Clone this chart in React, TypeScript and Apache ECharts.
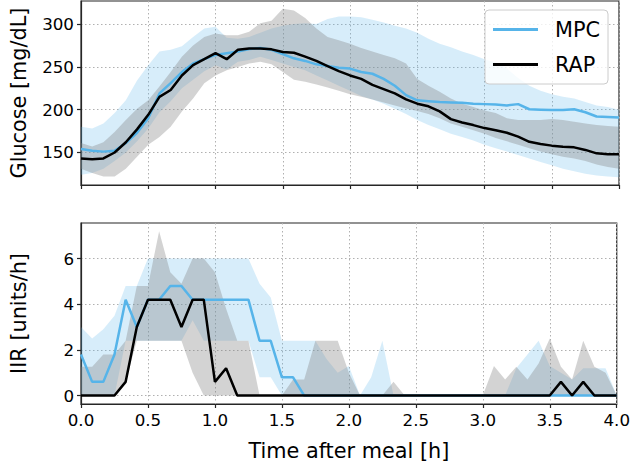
import React, { useEffect, useRef } from "react";
import * as echarts from "echarts";

// time grid (minutes after meal, 5-minute steps)
const minutes = [0,5,10,15,20,25,30,35,40,45,50,55,60,65,70,75,80,85,90,95,100,105,110,115,120,125,130,135,140,145,150,155,160,165,170,175,180,185,190,195,200,205,210,215,220,225,230,235,240];

// Glucose [mg/dL]
const mpcGlucose = [154,152,151,152,161,173,190,219,231,244,254,259,264,266,268,271,272,270,265,260,257,253,251,249,248,244,242,236,228,217,211,210,209,208.5,208,207,206.5,206,205,206.5,200.5,200,199.5,199.5,200.5,197,192,191.5,191];
const mpcGlucoseHi = [180,178,184,196,211,234,252,268,270,274,285,295,297,284,283,285,290,295,298,300,301,300,306,309,309,308,305,302,298,295,290,283,277,273,268,264,259,255,248,237,228,222,218,215,213,209,205,203,200];
const mpcGlucoseLo = [124,126,131,140,150,163,178,197,210,225,235,245,252,247,256,258,262,258,254,250,246,240,234,228,222,216,212,207,201,195,188,182,177,172,168,164,159,155,151,147,143,139,135,131,128,125,123,122,121];
const rapGlucose = [143,142,143,150,162,177,194,215,223,240,252,259,266,259,270,271.5,271.5,270.5,267.5,266.5,262,257,251,245,240,236,229,224,219,212,207,204,198,189,185,182,178.5,176,173,168.5,162.5,160,158,156.7,156,153,149,148,148];
const rapGlucoseHi = [161,157,162,174,188,201,211,227,244,262,275,285,289,287,287,291,301,304,318,316,307,295,285,281,277,272,268,264,260,254,236,228,221,213,207,203,199,196,190,188,188,188,189,188,186,184,182,181,180];
const rapGlucoseLo = [131,126,122,122,131,145,159,168,180,198,213,231,240,246,250,254,256,253,244,235,232.6,229.5,226,222,218,215,212,208.5,205,201.5,198.4,195,190,184,180,176,172,167,163,159,155,151,148,145,143,140,136,133,131];

// Insulin infusion rate [units/h]
const mpcIIR = [1.8,0.6,0.6,1.8,4.2,3.0,4.2,4.2,4.8,4.8,4.2,4.2,4.2,4.2,4.2,4.2,2.4,2.4,0.8,0.8,0,0,0,0,0,0,0,0,0,0,0,0,0,0,0,0,0,0,0,0,0,0,0,0,0,0,0,0,0];
const mpcIIRHi = [3.0,2.5,2.9,3.5,4.8,4.8,6.0,6.0,6.0,6.0,6.0,6.0,6.0,6.0,6.0,6.0,4.9,4.3,2.4,2.4,2.4,2.4,1.6,1.0,1.3,0,0.8,2.4,0,0,0,0,0,0,0,0,0,0,0,1.2,1.8,2.4,1.3,1.0,0.7,1.2,1.2,1.2,0];
const mpcIIRLo = [0,0,0,0,2.4,2.4,2.4,2.4,2.4,2.4,3.3,2.4,2.4,2.4,2.4,2.4,0.8,0.8,0,0,0,0,0,0,0,0,0,0,0,0,0,0,0,0,0,0,0,0,0,0,0,0,0,0,0,0,0,0,0];
const rapIIR = [0,0,0,0,0.6,3.0,4.2,4.2,4.2,3.0,4.2,4.2,0.6,1.2,0,0,0,0,0,0,0,0,0,0,0,0,0,0,0,0,0,0,0,0,0,0,0,0,0,0,0,0,0,0.6,0,0.6,0,0,0];
const rapIIRHi = [1.26,1.26,1.8,1.8,2.4,4.8,4.8,7.2,5.4,4.9,6.0,6.0,5.4,3.8,2.4,2.4,0,0,0,0.7,0.7,2.4,2.4,2.4,1.0,0,0,0,0.6,0,0,0,0,0,0,0,0,1.3,0.7,1.26,0.7,1.4,2.5,1.26,0.7,2.4,1.26,1.0,0];
const rapIIRLo = [0,0,0,0,0.6,2.4,2.4,2.4,2.4,2.4,1.0,0,0,0,0,0,0,0,0,0,0,0,0,0,0,0,0,0,0,0,0,0,0,0,0,0,0,0,0,0,0,0,0,0,0,0,0,0,0];

// tick labels
const timeTicks = [0, 0.5, 1, 1.5, 2, 2.5, 3, 3.5, 4];
const glucoseTicks = [150, 200, 250, 300];
const iirTicks = [0, 2, 4, 6];

const MPC_COLOR = "#56B4E9";
const FONT = "DejaVu Sans";
const AXIS_COLOR = "#262626";

const hours = minutes.map((m) => m / 60);
const pairs = (arr: number[]) => arr.map((v, i) => [hours[i], v]);

// shaded range drawn as one polygon through the axes' own scales
function band(name: string, grid: number, hi: number[], lo: number[], color: string, opacity: number) {
  const data = hours.map((h, i) => [h, lo[i], hi[i]]);
  return {
    name,
    type: "custom",
    xAxisIndex: grid,
    yAxisIndex: grid,
    silent: true,
    data,
    encode: { x: 0, y: [1, 2] },
    renderItem: (params: any, api: any) => {
      if (params.dataIndex !== 0) return null;
      const upper = data.map((d) => api.coord([d[0], d[2]]));
      const lower = data.map((d) => api.coord([d[0], d[1]])).reverse();
      return {
        type: "polygon",
        shape: { points: upper.concat(lower) },
        style: { fill: color, opacity, stroke: "none" },
      };
    },
  };
}

function line(name: string, grid: number, arr: number[], color: string) {
  return {
    name,
    type: "line",
    xAxisIndex: grid,
    yAxisIndex: grid,
    data: pairs(arr),
    symbol: "none",
    lineStyle: { color, width: 2.5 },
    itemStyle: { color },
  };
}

const splitLine = { show: true, lineStyle: { type: [1.5, 2.5], color: "#b0b0b0", width: 1 } };
const axisLine = { show: true, onZero: false, lineStyle: { color: AXIS_COLOR, width: 1.2 } };

function xAxis(grid: number, showLabels: boolean) {
  return {
    type: "value",
    gridIndex: grid,
    min: 0,
    max: 4,
    interval: 0.5,
    axisLine,
    axisTick: { show: true, length: 4, lineStyle: { color: AXIS_COLOR, width: 1.2 } },
    axisLabel: {
      show: showLabels,
      customValues: timeTicks,
      formatter: (v: number) => v.toFixed(1),
      fontFamily: FONT,
      fontSize: 16.7,
      color: "#000",
      margin: 7,
    },
    splitLine,
    name: showLabels ? "Time after meal [h]" : "",
    nameLocation: "middle",
    nameGap: 36,
    nameTextStyle: { fontFamily: FONT, fontSize: 20.8, color: "#000" },
  };
}

function yAxis(grid: number, min: number, max: number, ticks: number[], name: string) {
  return {
    type: "value",
    gridIndex: grid,
    min,
    max,
    axisLine,
    axisTick: { show: true, length: 4, customValues: ticks, lineStyle: { color: AXIS_COLOR, width: 1.2 } },
    axisLabel: {
      customValues: ticks,
      fontFamily: FONT,
      fontSize: 16.7,
      color: "#000",
      margin: 7,
    },
    splitLine,
    name,
    nameLocation: "middle",
    nameGap: 52,
    nameTextStyle: { fontFamily: FONT, fontSize: 20.8, color: "#000" },
  };
}

export default function App() {
  const ref = useRef<HTMLDivElement>(null);
  useEffect(() => {
    if (!ref.current) return;
    const chart = echarts.init(ref.current, undefined, { renderer: "svg" });
    chart.setOption({
      animation: false,
      textStyle: { fontFamily: FONT },
      grid: [
        { left: 73, right: 14, top: 1, height: 184, show: true, borderColor: AXIS_COLOR, borderWidth: 1.2 },
        { left: 73, right: 14, top: 223, height: 185, show: true, borderColor: AXIS_COLOR, borderWidth: 1.2 },
      ],
      xAxis: [xAxis(0, false), xAxis(1, true)],
      yAxis: [
        yAxis(0, 112, 327, glucoseTicks, "Glucose [mg/dL]"),
        yAxis(1, -0.37, 7.56, iirTicks, "IIR [units/h]"),
      ],
      legend: {
        data: ["MPC", "RAP"],
        orient: "vertical",
        right: 25,
        top: 10,
        icon: "rect",
        itemWidth: 45,
        itemHeight: 3,
        itemGap: 14,
        padding: [9, 8, 9, 8],
        backgroundColor: "rgba(255,255,255,0.8)",
        borderColor: "#cccccc",
        borderWidth: 1,
        borderRadius: 4,
        textStyle: { fontFamily: FONT, fontSize: 20.8, color: "#000", padding: [0, 0, 0, 12] },
      },
      series: [
        band("mpcGlucoseBand", 0, mpcGlucoseHi, mpcGlucoseLo, MPC_COLOR, 0.24),
        band("rapGlucoseBand", 0, rapGlucoseHi, rapGlucoseLo, "#808080", 0.35),
        band("mpcIIRBand", 1, mpcIIRHi, mpcIIRLo, MPC_COLOR, 0.24),
        band("rapIIRBand", 1, rapIIRHi, rapIIRLo, "#808080", 0.35),
        line("MPC", 0, mpcGlucose, MPC_COLOR),
        line("RAP", 0, rapGlucose, "#000000"),
        line("MPC", 1, mpcIIR, MPC_COLOR),
        line("RAP", 1, rapIIR, "#000000"),
      ],
    });
    return () => chart.dispose();
  }, []);
  return <div ref={ref} style={{ width: 633, height: 462, position: "absolute", left: 0, top: 0 }} />;
}
